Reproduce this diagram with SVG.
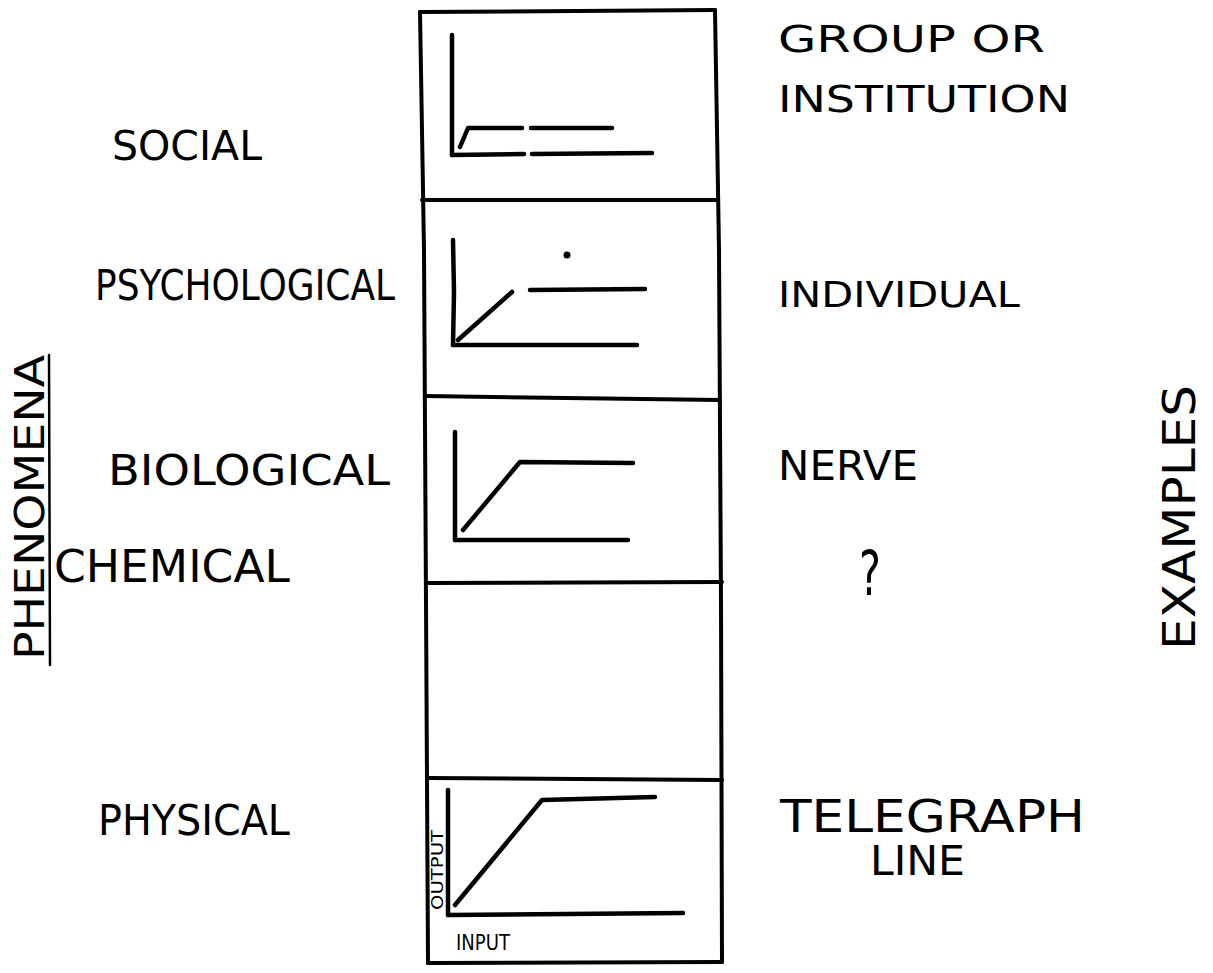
<svg xmlns="http://www.w3.org/2000/svg" width="1213" height="973" viewBox="0 0 1213 973">
  <style>
    .ink { fill: none; stroke: #000; stroke-linecap: round; stroke-linejoin: round; }
    .frame { stroke-width: 4; }
    .plot { stroke-width: 4.5; }
    .thin { stroke-width: 2.5; }
    .lbl { font-family: "DejaVu Sans", "Liberation Sans", sans-serif; fill: #000; font-weight: normal; }
  </style>
  <rect x="0" y="0" width="1213" height="973" fill="#fff"/>

  <!-- column frame and row dividers -->
  <g id="frame" class="ink frame">
    <path d="M420,12 L715,10"/>
    <path d="M420,12 L424,250 L426,600 L428,963"/>
    <path d="M715,10 L719,250 L721,600 L722,962"/>
    <path d="M428,963 L722,962"/>
    <path d="M422,200 L718,200"/>
    <path d="M425,396 L720,400"/>
    <path d="M427,583 L722,582"/>
    <path d="M428,778 L722,780"/>
  </g>

  <!-- row 1: social -->
  <g id="social">
    <text class="lbl" x="112" y="160" font-size="41" textLength="150" lengthAdjust="spacingAndGlyphs">SOCIAL</text>
    <g class="ink plot">
      <path d="M452,35 L452,155"/>
      <path d="M452,155 L524,154 M532,154 L652,153"/>
      <path d="M460,147 L468,128 L522,128 M531,128 L612,128"/>
    </g>
    <text class="lbl" x="778" y="52" font-size="38" textLength="267" lengthAdjust="spacingAndGlyphs">GROUP  OR</text>
    <text class="lbl" x="778" y="112" font-size="38" textLength="292" lengthAdjust="spacingAndGlyphs">INSTITUTION</text>
  </g>

  <!-- row 2: psychological -->
  <g id="psychological">
    <text class="lbl" x="95" y="300" font-size="42" textLength="300" lengthAdjust="spacingAndGlyphs">PSYCHOLOGICAL</text>
    <g class="ink plot">
      <path d="M453,240 L454,292 L453,345"/>
      <path d="M453,345 L637,345"/>
      <path d="M458,340 L512,292"/>
      <path d="M530,290 L645,289"/>
    </g>
    <circle cx="567" cy="255" r="3.5" fill="#000"/>
    <text class="lbl" x="778" y="307" font-size="36" textLength="242" lengthAdjust="spacingAndGlyphs">INDIVIDUAL</text>
  </g>

  <!-- row 3: biological -->
  <g id="biological">
    <text class="lbl" x="108" y="485" font-size="42" textLength="282" lengthAdjust="spacingAndGlyphs">BIOLOGICAL</text>
    <g class="ink plot">
      <path d="M455,432 L455,540"/>
      <path d="M455,540 L628,540"/>
      <path d="M463,530 L520,462 L633,463"/>
    </g>
    <text class="lbl" x="778" y="480" font-size="40" textLength="140" lengthAdjust="spacingAndGlyphs">NERVE</text>
  </g>

  <!-- row 4: chemical -->
  <g id="chemical">
    <text class="lbl" x="54" y="582" font-size="44" textLength="236" lengthAdjust="spacingAndGlyphs">CHEMICAL</text>
    <text class="lbl" x="859" y="595" font-size="62" textLength="22" lengthAdjust="spacingAndGlyphs">?</text>
  </g>

  <!-- row 5: physical -->
  <g id="physical">
    <text class="lbl" x="98" y="835" font-size="42" textLength="192" lengthAdjust="spacingAndGlyphs">PHYSICAL</text>
    <g class="ink plot">
      <path d="M448,790 L448,915"/>
      <path d="M448,915 L683,913"/>
      <path d="M455,905 L542,800 L655,797"/>
    </g>
    <text class="lbl" transform="translate(443,910) rotate(-90)" font-size="15" textLength="80" lengthAdjust="spacingAndGlyphs">OUTPUT</text>
    <text class="lbl" x="456" y="950" font-size="22" textLength="54" lengthAdjust="spacingAndGlyphs">INPUT</text>
    <text class="lbl" x="780" y="832" font-size="44" textLength="305" lengthAdjust="spacingAndGlyphs">TELEGRAPH</text>
    <text class="lbl" x="870" y="875" font-size="40" textLength="95" lengthAdjust="spacingAndGlyphs">LINE</text>
  </g>

  <!-- side captions -->
  <g id="phenomena">
    <text class="lbl" transform="translate(44,660) rotate(-90)" font-size="40" textLength="305" lengthAdjust="spacingAndGlyphs">PHENOMENA</text>
    <path class="ink thin" d="M49,355 L50,665"/>
  </g>
  <g id="examples">
    <text class="lbl" transform="translate(1195,650) rotate(-90)" font-size="44" textLength="265" lengthAdjust="spacingAndGlyphs">EXAMPLES</text>
  </g>
</svg>
